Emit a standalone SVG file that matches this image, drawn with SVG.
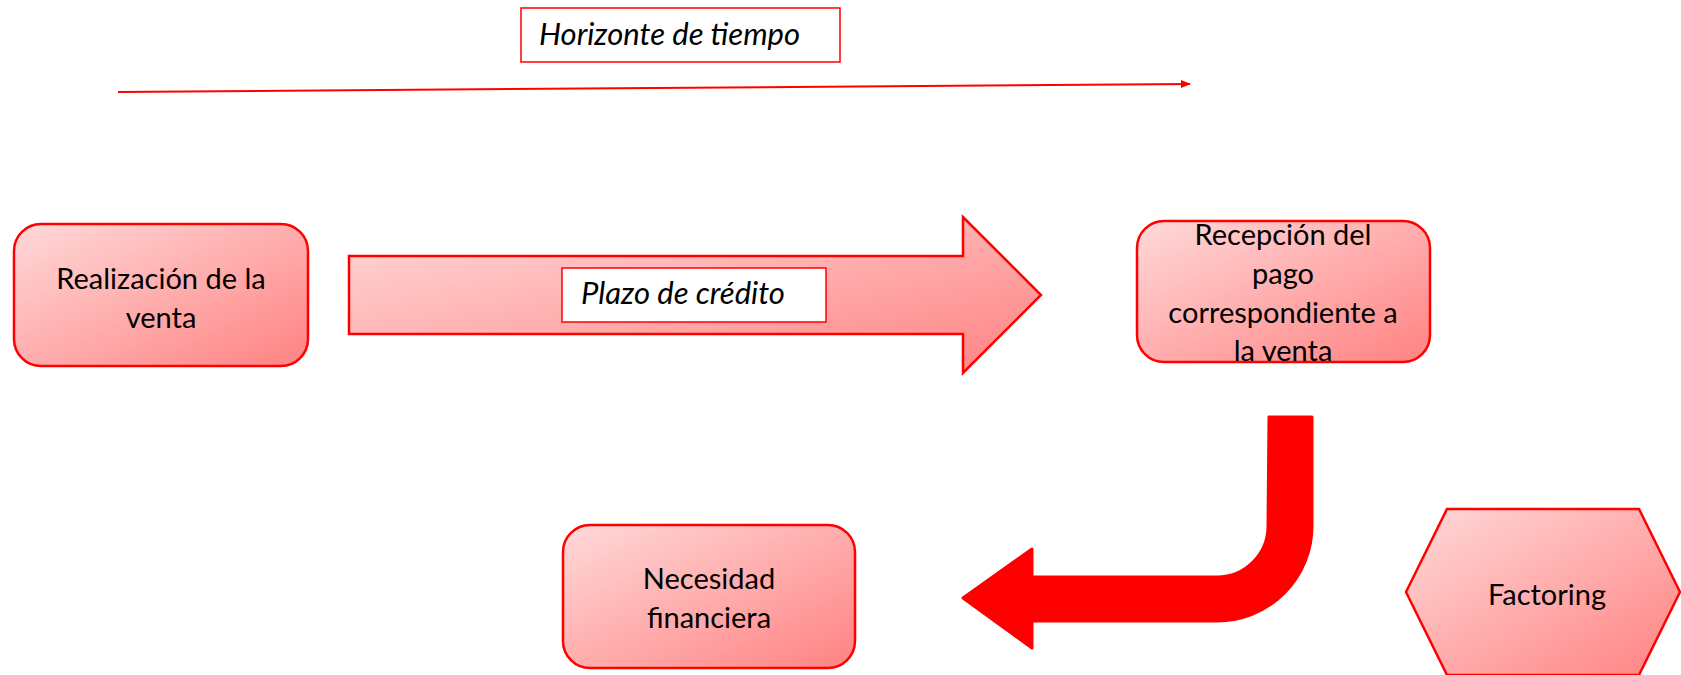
<svg xmlns="http://www.w3.org/2000/svg" width="1681" height="675" viewBox="0 0 1681 675">
<defs>
<linearGradient id="g" x1="0" y1="0" x2="1" y2="1">
<stop offset="0" stop-color="#FFD9D9"/>
<stop offset="1" stop-color="#FF8282"/>
</linearGradient>
<marker id="ah" markerWidth="10" markerHeight="10" refX="9" refY="5" orient="auto" markerUnits="userSpaceOnUse">
<path d="M0,1 L10,5 L0,9 Z" fill="#FF0000"/>
</marker>
<style>
.box{fill:url(#g);stroke:#FF0000;stroke-width:2.5}
.lbl{fill:#FFFFFF;stroke:#FF0000;stroke-width:1.5}
.t{font-family:Lato,"Open Sans","Liberation Sans",sans-serif;font-size:29px;fill:#000;text-anchor:middle}
.ti{font-family:Lato,"Open Sans","Liberation Sans",sans-serif;font-size:31px;font-style:italic;fill:#000}
</style>
</defs>
<rect width="1681" height="675" fill="#FFFFFF"/>
<g id="connectors">
<line x1="118" y1="92" x2="1190" y2="84" stroke="#FF0000" stroke-width="2" marker-end="url(#ah)"/>
<path id="plazo-arrow" class="box" d="M349,256 L963,256 L963,217 L1041,295 L963,373 L963,334 L349,334 Z"/>
<path id="bent-arrow" fill="#FF0000" stroke="#FF0000" stroke-width="3" stroke-linejoin="round" d="M1269,417 L1312,417 L1312,526 A95,95 0 0 1 1217,621 L1032,621 L1032,648 L963,598 L1032,549 L1032,577 L1217,577 A51,51 0 0 0 1268,526 Z"/>
</g>
<g id="horizonte">
<rect class="lbl" x="521" y="8" width="319" height="54"/>
<text class="ti" x="539" y="45">Horizonte de tiempo</text>
</g>
<g id="realizacion">
<rect class="box" x="14" y="224" width="294" height="142" rx="27"/>
<text class="t" x="161" y="289">Realización de la</text>
<text class="t" x="161" y="328">venta</text>
</g>
<g id="plazo">
<rect class="lbl" x="562" y="268" width="264" height="54"/>
<text class="ti" x="581" y="304">Plazo de crédito</text>
</g>
<g id="recepcion">
<rect class="box" x="1137" y="221" width="293" height="141" rx="27"/>
<text class="t" x="1283" y="245">Recepción del</text>
<text class="t" x="1283" y="284">pago</text>
<text class="t" x="1283" y="323">correspondiente a</text>
<text class="t" x="1283" y="361">la venta</text>
</g>
<g id="necesidad">
<rect class="box" x="563" y="525" width="292" height="143" rx="27"/>
<text class="t" x="709" y="589">Necesidad</text>
<text class="t" x="709" y="628">financiera</text>
</g>
<g id="factoring">
<polygon class="box" points="1406,592 1447,509 1639,509 1680,592 1639,675 1447,675"/>
<text class="t" x="1547" y="605">Factoring</text>
</g>
</svg>
